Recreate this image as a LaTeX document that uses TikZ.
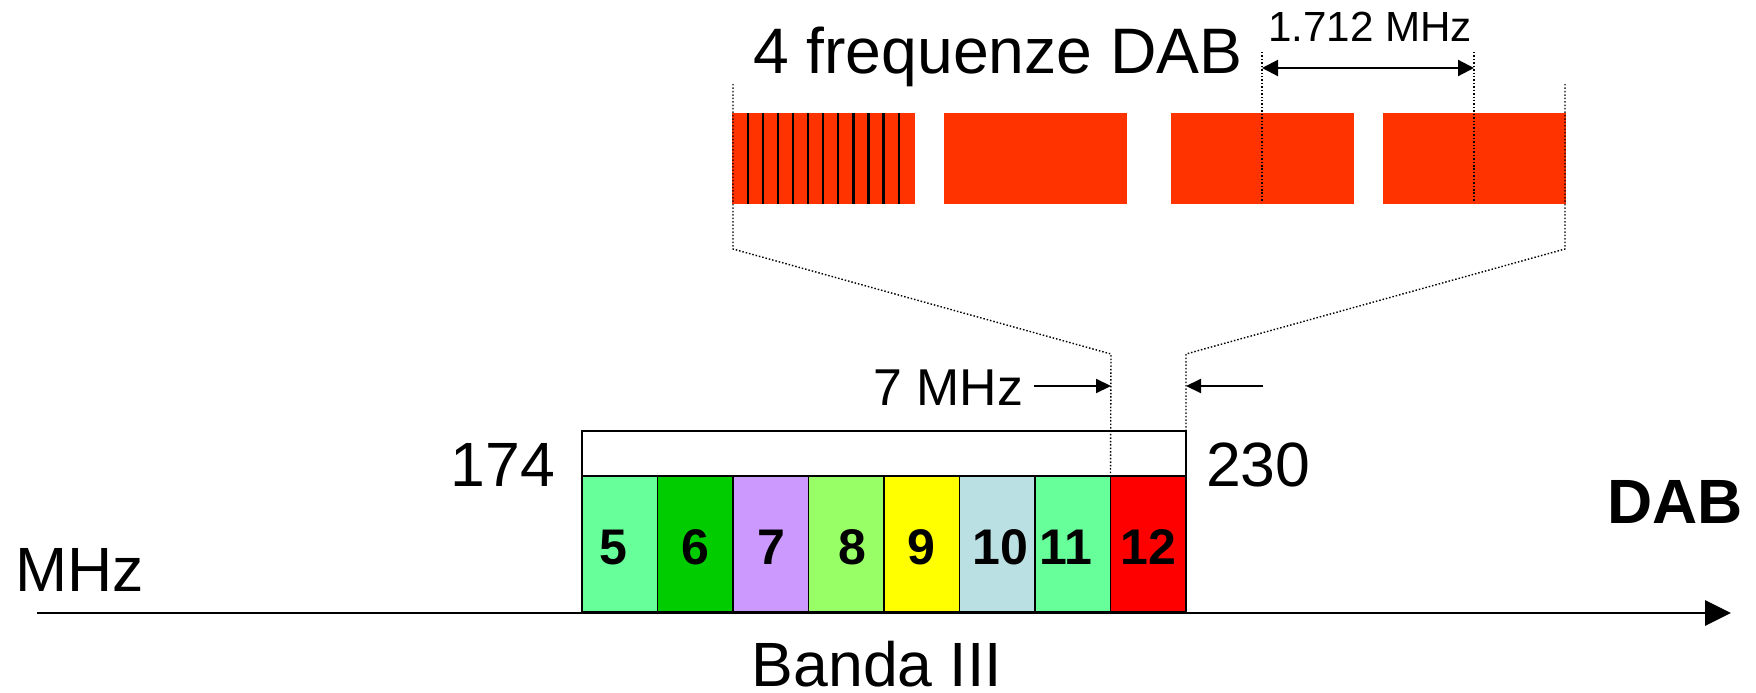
\documentclass[tikz,border=0pt]{standalone}
\usepackage{fontspec}
\setmainfont{Liberation Sans}
\usetikzlibrary{arrows.meta}
\definecolor{blockred}{HTML}{FF3300}
\definecolor{cfive}{HTML}{66FF99}
\definecolor{csix}{HTML}{00CC00}
\definecolor{cseven}{HTML}{CC99FF}
\definecolor{ceight}{HTML}{99FF66}
\definecolor{cnine}{HTML}{FFFF00}
\definecolor{cten}{HTML}{BBE0E3}
\definecolor{celeven}{HTML}{66FF99}
\definecolor{ctwelve}{HTML}{FF0000}
\begin{document}
\begin{tikzpicture}[x=0.02cm,y=-0.02cm,
  every node/.style={inner sep=0pt, outer sep=0pt},
  big/.style={font=\fontsize{35.6}{42}\selectfont},
  mid/.style={font=\fontsize{29.5}{35}\selectfont},
  small/.style={font=\fontsize{24}{29}\selectfont},
  chan/.style={draw=black, line width=1.1pt, minimum width=75.5*0.02cm,
    minimum height=136*0.02cm, anchor=north west},
  chnum/.style={font=\fontsize{28.5}{33}\selectfont\bfseries, anchor=base},
  redblock/.style={fill=blockred, minimum width=183*0.02cm,
    minimum height=91*0.02cm, anchor=north west},
  guide/.style={line width=0.8pt, dash pattern=on 0.85pt off 1.1pt},
  marker/.style={line width=1.2pt, -{Triangle[length=0.3cm, width=0.28cm]}},
  axis/.style={line width=1.7pt, -{Triangle[length=0.52cm, width=0.5cm]}}]
\useasboundingbox (0,0) rectangle (1756,693);

% ---- the four DAB blocks ----
\node[redblock] (blk1) at (732,113) {};
\node[redblock] (blk2) at (944,113) {};
\node[redblock] (blk3) at (1171,113) {};
\node[redblock] (blk4) at (1383,113) {};
% carriers inside the first block
\foreach \k in {0,...,10}
  \draw[line width=1.3pt] ({747.7+15.1*\k},113) -- ({747.7+15.1*\k},204);

\node[font=\fontsize{36.6}{43}\selectfont, anchor=base west] (title) at (753,73) {4 frequenze DAB};

% block spacing
\coordinate (sa) at (1262,52);
\coordinate (sb) at (1262,202);
\coordinate (sc) at (1474,52);
\coordinate (sd) at (1474,202);
\draw[guide] (sa) -- (sb);
\draw[guide] (sc) -- (sd);
\coordinate (sl) at (1262,68);
\coordinate (sr) at (1474,68);
\draw[line width=1.2pt, {Triangle[length=0.32cm, width=0.32cm]}-{Triangle[length=0.32cm, width=0.32cm]}] (sl) -- (sr);
\node[small, anchor=base] (spacing) at (1370,41) {1.712 MHz};

% ---- Band III ----
\node[draw=black, line width=1.3pt, fill=white, minimum width=604*0.02cm,
  minimum height=45*0.02cm, anchor=north west] (band) at (582,431) {};
\foreach \n/\c/\dx [count=\i from 0] in {5/cfive/-6,6/csix/0,7/cseven/1,8/ceight/6,9/cnine/0,10/cten/3,11/celeven/-7,12/ctwelve/0}{
  \node[chan, fill=\c] (ch\n) at ({582+75.5*\i},476) {};
  \node[chnum] (num\n) at ({582+75.5*\i+37.75+\dx},564) {\n};
}

\node[big, anchor=base east] (low) at (555,486) {174};
\node[big, anchor=base west] (high) at (1206,486) {230};

% ---- zoom guides from channel 12 to the DAB blocks ----
\coordinate (tl) at (733,84);
\coordinate (bl) at (733,249);
\coordinate (kl) at (1111,354);
\coordinate (tr) at (1565,84);
\coordinate (br) at (1565,249);
\coordinate (kr) at (1186,354);
\draw[guide] (tl) -- (bl) -- (kl) -- (ch12.north west);
\draw[guide] (tr) -- (br) -- (kr) -- (band.north east);

% channel width markers
\coordinate (ml) at (1034,386);
\coordinate (mlt) at (1111,386);
\coordinate (mr) at (1263,386);
\coordinate (mrt) at (1186,386);
\draw[marker] (ml) -- (mlt);
\draw[marker] (mr) -- (mrt);
\node[mid, anchor=base east] (chw) at (1023,405) {7 MHz};

% ---- frequency axis ----
\coordinate (a0) at (37,613);
\coordinate (a1) at (1731,613);
\draw[axis] (a0) -- (a1);
\node[big, anchor=base west] (unit) at (15,591) {MHz};
\node[anchor=base east, font=\fontsize{35.6}{42}\selectfont\bfseries] (dab) at (1743,523) {DAB};
\node[big, anchor=base] (banda) at (877,686) {Banda III};
\end{tikzpicture}
\end{document}
